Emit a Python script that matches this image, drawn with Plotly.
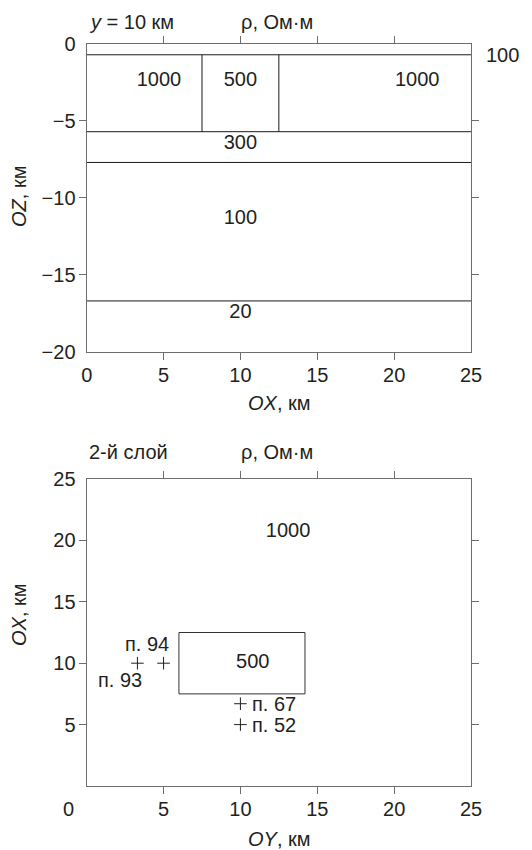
import plotly.graph_objects as go

# ---------------- data ----------------
# Top panel: section at y = 10 km, boundaries (km)
layer_depths = [-0.7, -5.7, -7.7, -16.7]
block_edges_x = [7.5, 12.5]
block_top, block_bottom = -0.7, -5.7
top_labels = ["1000", "500", "1000", "300", "100", "20"]
top_label_x = [4.7, 10.0, 21.5, 10.0, 10.0, 10.0]
top_label_z = [-2.4, -2.4, -2.4, -6.5, -11.4, -17.5]
surface_label = "100"

# Bottom panel: 2nd layer plan view
rect_oy = [6.0, 14.2]
rect_ox = [7.5, 12.5]
pts_names = ["п. 94", "п. 93", "п. 67", "п. 52"]
pts_oy = [5.0, 3.3, 10.0, 10.0]
pts_ox = [10.0, 10.0, 6.7, 5.0]
bot_labels = ["1000", "500"]
bot_label_oy = [13.1, 10.8]
bot_label_ox = [20.7, 10.0]

x_ticks_top = [0, 5, 10, 15, 20, 25]
z_ticks = [0, -5, -10, -15, -20]
minor_x = [5, 10, 15, 20]
minor_z = [-5, -10, -15]
bot_x_ticks = [5, 10, 15, 20, 25]
bot_y_ticks = [5, 10, 15, 20, 25]
minor_bot = [5, 10, 15, 20]

FONT = "Liberation Sans, Arial, sans-serif"
TXT = "#231f20"
AX = "#6d6d6d"
FS = 20

fig = go.Figure()

# layer boundary lines (top)
hx, hy = [], []
for d in layer_depths:
    hx += [0, 25, None]
    hy += [d, d, None]
for e in block_edges_x:
    hx += [e, e, None]
    hy += [block_top, block_bottom, None]
fig.add_trace(go.Scatter(x=hx, y=hy, mode="lines", line=dict(color="#1a1a1a", width=1),
                         xaxis="x", yaxis="y", hoverinfo="skip", showlegend=False))
fig.add_trace(go.Scatter(x=top_label_x, y=top_label_z, mode="text", text=top_labels,
                         textfont=dict(family=FONT, size=FS, color=TXT),
                         xaxis="x", yaxis="y", showlegend=False))

# rectangle (bottom)
fig.add_trace(go.Scatter(x=[rect_oy[0], rect_oy[1], rect_oy[1], rect_oy[0], rect_oy[0]],
                         y=[rect_ox[0], rect_ox[0], rect_ox[1], rect_ox[1], rect_ox[0]],
                         mode="lines", line=dict(color="#333", width=1),
                         xaxis="x2", yaxis="y2", hoverinfo="skip", showlegend=False))
fig.add_trace(go.Scatter(x=pts_oy, y=pts_ox, mode="markers",
                         marker=dict(symbol="cross-thin", size=9, line=dict(color=TXT, width=1)),
                         xaxis="x2", yaxis="y2", showlegend=False))
fig.add_trace(go.Scatter(x=bot_label_oy, y=bot_label_ox, mode="text", text=bot_labels,
                         textfont=dict(family=FONT, size=FS, color=TXT),
                         xaxis="x2", yaxis="y2", showlegend=False))

# point labels
pos = {"п. 94": (5.5, 11.6, "right"), "п. 93": (0.6, 8.6, "left"),
       "п. 67": (10.6, 6.7, "left"), "п. 52": (10.6, 5.0, "left")}
for n in pts_names:
    px, py, anc = pos[n]
    fig.add_annotation(x=px, y=py, xref="x2", yref="y2", text=n, showarrow=False,
                       xanchor=anc, yanchor="middle",
                       font=dict(family=FONT, size=FS, color=TXT))

def paper_y(py):
    return 1 - py / 850

def paper_x(px):
    return px / 532

annots = [
    ("<i>y</i> = 10 км", 87, 22, "left", 0),
    ("ρ, Ом·м", 277, 22, "center", 0),
    ("<i>OX</i>, км", 279, 403, "center", 0),
    ("<i>OZ</i>, км", 19, 197, "center", -90),
    ("2-й слой", 87, 452, "left", 0),
    ("ρ, Ом·м", 277, 452, "center", 0),
    ("<i>OX</i>, км", 19, 615, "center", -90),
    ("<i>OY</i>, км", 279, 839, "center", 0),
    ("0", 68, 809, "center", 0),
    (surface_label, 484, 55, "left", 0),
]
for t, px, py, anc, ang in annots:
    fig.add_annotation(x=paper_x(px), y=paper_y(py), xref="paper", yref="paper", text=t,
                       showarrow=False, xanchor=anc, yanchor="middle", textangle=ang,
                       font=dict(family=FONT, size=FS, color=TXT))

common = dict(showgrid=False, zeroline=False, showline=True, linecolor=AX, linewidth=1.3,
              mirror="ticks", ticks="", automargin=False,
              tickfont=dict(family=FONT, size=FS, color=TXT), fixedrange=True)

xdom = [86.7 / 532, 471 / 532]
fig.update_layout(
    width=532, height=850, margin=dict(l=0, r=0, t=0, b=0),
    paper_bgcolor="white", plot_bgcolor="white", showlegend=False,
    xaxis=dict(domain=xdom, range=[0, 25], tickvals=x_ticks_top, anchor="y", ticklabelstandoff=5,
               minor=dict(tickvals=minor_x, ticks="outside", ticklen=7, tickcolor=AX, tickwidth=1),
               **common),
    yaxis=dict(domain=[paper_y(351.7), paper_y(44)], range=[-20, 0], tickvals=z_ticks, anchor="x",
               ticklabelstandoff=6,
               minor=dict(tickvals=minor_z, ticks="outside", ticklen=7, tickcolor=AX, tickwidth=1),
               **common),
    xaxis2=dict(domain=xdom, range=[0, 25], tickvals=bot_x_ticks, anchor="y2", ticklabelstandoff=5,
                minor=dict(tickvals=minor_bot, ticks="outside", ticklen=7, tickcolor=AX, tickwidth=1),
                **common),
    yaxis2=dict(domain=[paper_y(786), paper_y(479)], range=[0, 25], tickvals=bot_y_ticks, anchor="x2",
                ticklabelstandoff=6,
                minor=dict(tickvals=minor_bot, ticks="outside", ticklen=7, tickcolor=AX, tickwidth=1),
                **common),
)

fig.write_html("out.html")
